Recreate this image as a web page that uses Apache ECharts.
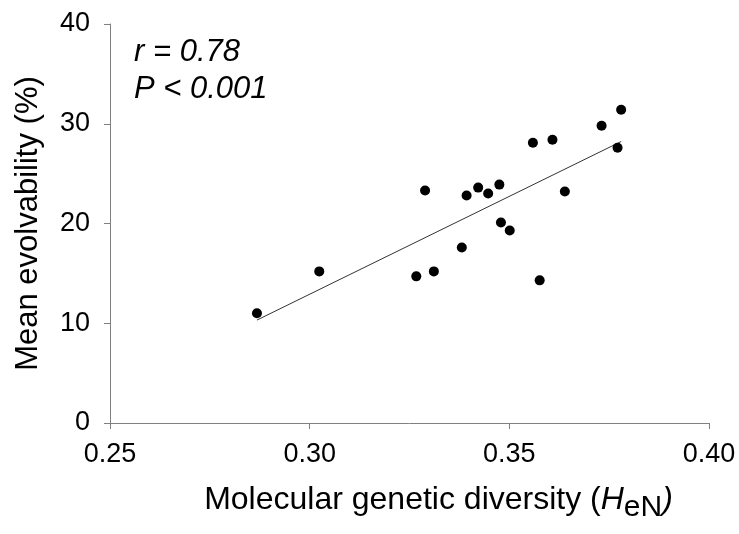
<!DOCTYPE html>
<html>
<head>
<meta charset="utf-8">
<title>Mean evolvability vs molecular genetic diversity</title>
<script src="https://cdn.jsdelivr.net/npm/echarts@6/dist/echarts.min.js"></script>
<style>
  html, body { margin: 0; padding: 0; background: #fff; }
  #chart { width: 739px; height: 534px; }
</style>
</head>
<body>
<div id="chart"></div>
<script>
// Molecular genetic diversity (HeN) per population
const diversity = [0.2868, 0.3024, 0.3267, 0.3289, 0.3311, 0.3381, 0.3393, 0.3422, 0.3447, 0.3475,
                   0.3479, 0.3501, 0.3559, 0.3576, 0.3608, 0.3639, 0.3731, 0.3771, 0.3780];
// Mean evolvability (%) for the same populations
const evolvability = [11.0, 15.2, 14.7, 23.3, 15.2, 17.6, 22.8, 23.6, 23.0, 23.9,
                      20.1, 19.3, 28.1, 14.3, 28.4, 23.2, 29.8, 27.6, 31.4];
const xTicks = [0.25, 0.30, 0.35, 0.40];
const yTicks = [0, 10, 20, 30, 40];
const statLines = ['r = 0.78', 'P < 0.001'];

// least-squares fit, drawn across the observed range
function fitLine(xs, ys) {
  const n = xs.length;
  const mx = xs.reduce((a, b) => a + b, 0) / n;
  const my = ys.reduce((a, b) => a + b, 0) / n;
  let sxy = 0, sxx = 0;
  for (let i = 0; i < n; i++) {
    sxy += (xs[i] - mx) * (ys[i] - my);
    sxx += (xs[i] - mx) * (xs[i] - mx);
  }
  const slope = sxy / sxx;
  const x0 = Math.min(...xs), x1 = Math.max(...xs);
  return [[x0, my + slope * (x0 - mx)], [x1, my + slope * (x1 - mx)]];
}

const points = diversity.map((x, i) => [x, evolvability[i]]);
const trend = fitLine(diversity, evolvability);

const FONT = '"Liberation Sans", Arial, sans-serif';
const axisGray = '#808080';

const chart = echarts.init(document.getElementById('chart'), null, { renderer: 'canvas' });
chart.setOption({
  animation: false,
  backgroundColor: '#ffffff',
  grid: { left: 110, right: 30, top: 24, bottom: 111, containLabel: false },
  xAxis: {
    type: 'value',
    min: xTicks[0],
    max: xTicks[xTicks.length - 1],
    interval: 0.05,
    name: '{a|Molecular genetic diversity (}{h|H}{s|eN}{h|)}',
    nameLocation: 'middle',
    nameGap: 54,
    nameTextStyle: {
      padding: [0, 0, 0, 58],
      rich: {
        a: { fontFamily: FONT, fontSize: 32, color: '#000' },
        h: { fontFamily: FONT, fontSize: 32, fontStyle: 'italic', color: '#000' },
        s: { fontFamily: FONT, fontSize: 30, color: '#000', padding: [16, 0, 0, 0] }
      }
    },
    axisLine: { show: true, onZero: false, lineStyle: { color: axisGray, width: 1 } },
    axisTick: { show: true, inside: false, length: 6, lineStyle: { color: axisGray } },
    axisLabel: {
      margin: 18,
      fontFamily: FONT, fontSize: 27, color: '#000',
      formatter: v => v.toFixed(2)
    },
    splitLine: { show: false }
  },
  yAxis: {
    type: 'value',
    min: yTicks[0],
    max: yTicks[yTicks.length - 1],
    interval: 10,
    name: 'Mean evolvability (%)',
    nameLocation: 'middle',
    nameGap: 66,
    nameTextStyle: { fontFamily: FONT, fontSize: 31, color: '#000' },
    axisLine: { show: true, lineStyle: { color: axisGray, width: 1 } },
    axisTick: { show: true, inside: false, length: 6, lineStyle: { color: axisGray } },
    axisLabel: { margin: 20, fontFamily: FONT, fontSize: 27, color: '#000' },
    splitLine: { show: false }
  },
  graphic: [{
    type: 'text',
    left: 134,
    top: 34,
    style: {
      text: statLines.join('\n'),
      fontFamily: FONT,
      fontSize: 31,
      fontStyle: 'italic',
      lineHeight: 37,
      fill: '#000'
    }
  }],
  series: [
    {
      type: 'line',
      data: trend,
      showSymbol: false,
      symbol: 'none',
      lineStyle: { color: '#333333', width: 1 },
      z: 1,
      silent: true
    },
    {
      type: 'scatter',
      data: points,
      symbol: 'circle',
      symbolSize: 10,
      itemStyle: { color: '#000000', opacity: 1 },
      z: 2
    }
  ]
});
</script>
</body>
</html>
